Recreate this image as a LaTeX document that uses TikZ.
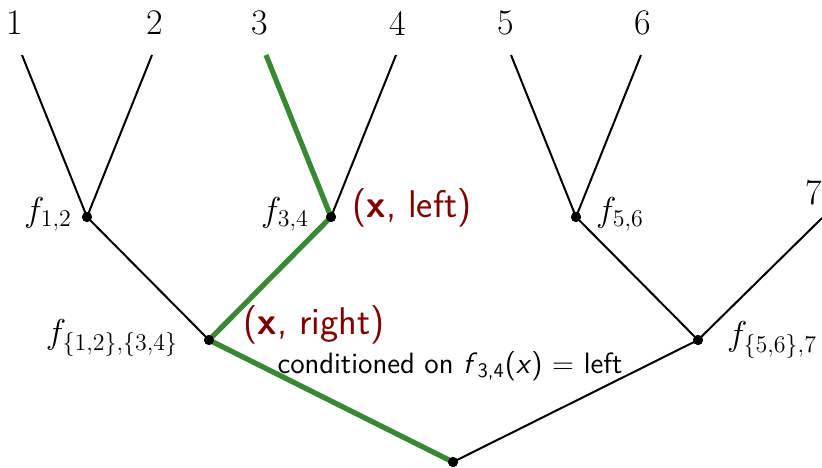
\documentclass[tikz,border=0pt]{standalone}
\usepackage{amsmath}
\usepackage{fontspec}
\definecolor{pathgreen}{RGB}{58,135,52}
\definecolor{darkred}{RGB}{128,0,0}
\tikzset{
  dot/.style={circle,fill=black,inner sep=0pt,minimum size=5pt},
  edge/.style={line width=1pt},
  hl/.style={line width=2.6pt,draw=pathgreen,line join=round},
  lab/.style={font=\fontsize{18}{20}\selectfont,inner sep=0pt},
  red/.style={font=\sffamily\fontsize{19.3}{22}\selectfont,text=darkred,inner sep=0pt},
  cond/.style={font=\sffamily\fontsize{14.7}{17}\selectfont,inner sep=0pt}
}
\begin{document}
\begin{tikzpicture}[x=0.5pt,y=-0.5pt]
\useasboundingbox (0,0) rectangle (822,467);
% leaves
\coordinate (l1) at (22,55);
\coordinate (l2) at (152,55);
\coordinate (l3) at (266,55);
\coordinate (l4) at (396,55);
\coordinate (l5) at (511,55);
\coordinate (l6) at (641,55);
\coordinate (l7) at (822,218);
% internal nodes
\node[dot] (f12) at (87,217) {};
\node[dot] (f34) at (331,217) {};
\node[dot] (f56) at (576,217) {};
\node[dot] (f1234) at (209,340) {};
\node[dot] (f567) at (698,340) {};
\node[dot] (root) at (453,462) {};
% edges
\draw[edge] (l1) -- (f12.center) -- (l2);
\draw[edge] (f34.center) -- (l4);
\draw[edge] (l5) -- (f56.center) -- (l6);
\draw[edge] (f12.center) -- (f1234.center);
\draw[edge] (f56.center) -- (f567.center) -- (l7);
\draw[edge] (f567.center) -- (root.center);
\draw[hl] (l3) -- (f34.center) -- (f1234.center) -- (root.center);
% redraw dots on top
\foreach \n in {f12,f34,f56,f1234,f567,root} \fill (\n.center) circle (2.5pt);
% leaf labels
\node[lab] (t1) at (15,23) {1};
\node[lab] (t2) at (155,23) {2};
\node[lab] (t3) at (260,23) {3};
\node[lab] (t4) at (398,23) {4};
\node[lab] (t5) at (506,23) {5};
\node[lab] (t6) at (643,23) {6};
\node[lab] (t7) at (814,193) {7};
% internal labels
\node[lab] (n12) at (48,214) {$f_{1,2}$};
\node[lab] (n34) at (285,214) {$f_{3,4}$};
\node[lab] (n56) at (620,214) {$f_{5,6}$};
\node[lab] (n1234) at (112,338) {$f_{\{1,2\},\{3,4\}}$};
\node[lab] (n567) at (772,340) {$f_{\{5,6\},7}$};
% annotations
\node[red] (xl) at (412,208) {(\textbf{x}, left)};
\node[red] (xr) at (314,325) {(\textbf{x}, right)};
\node[cond] (cn) at (450,366) {conditioned on \textit{f}$_{\textsf{3,4}}$(\textit{x}) $=$ left};
\end{tikzpicture}
\end{document}
